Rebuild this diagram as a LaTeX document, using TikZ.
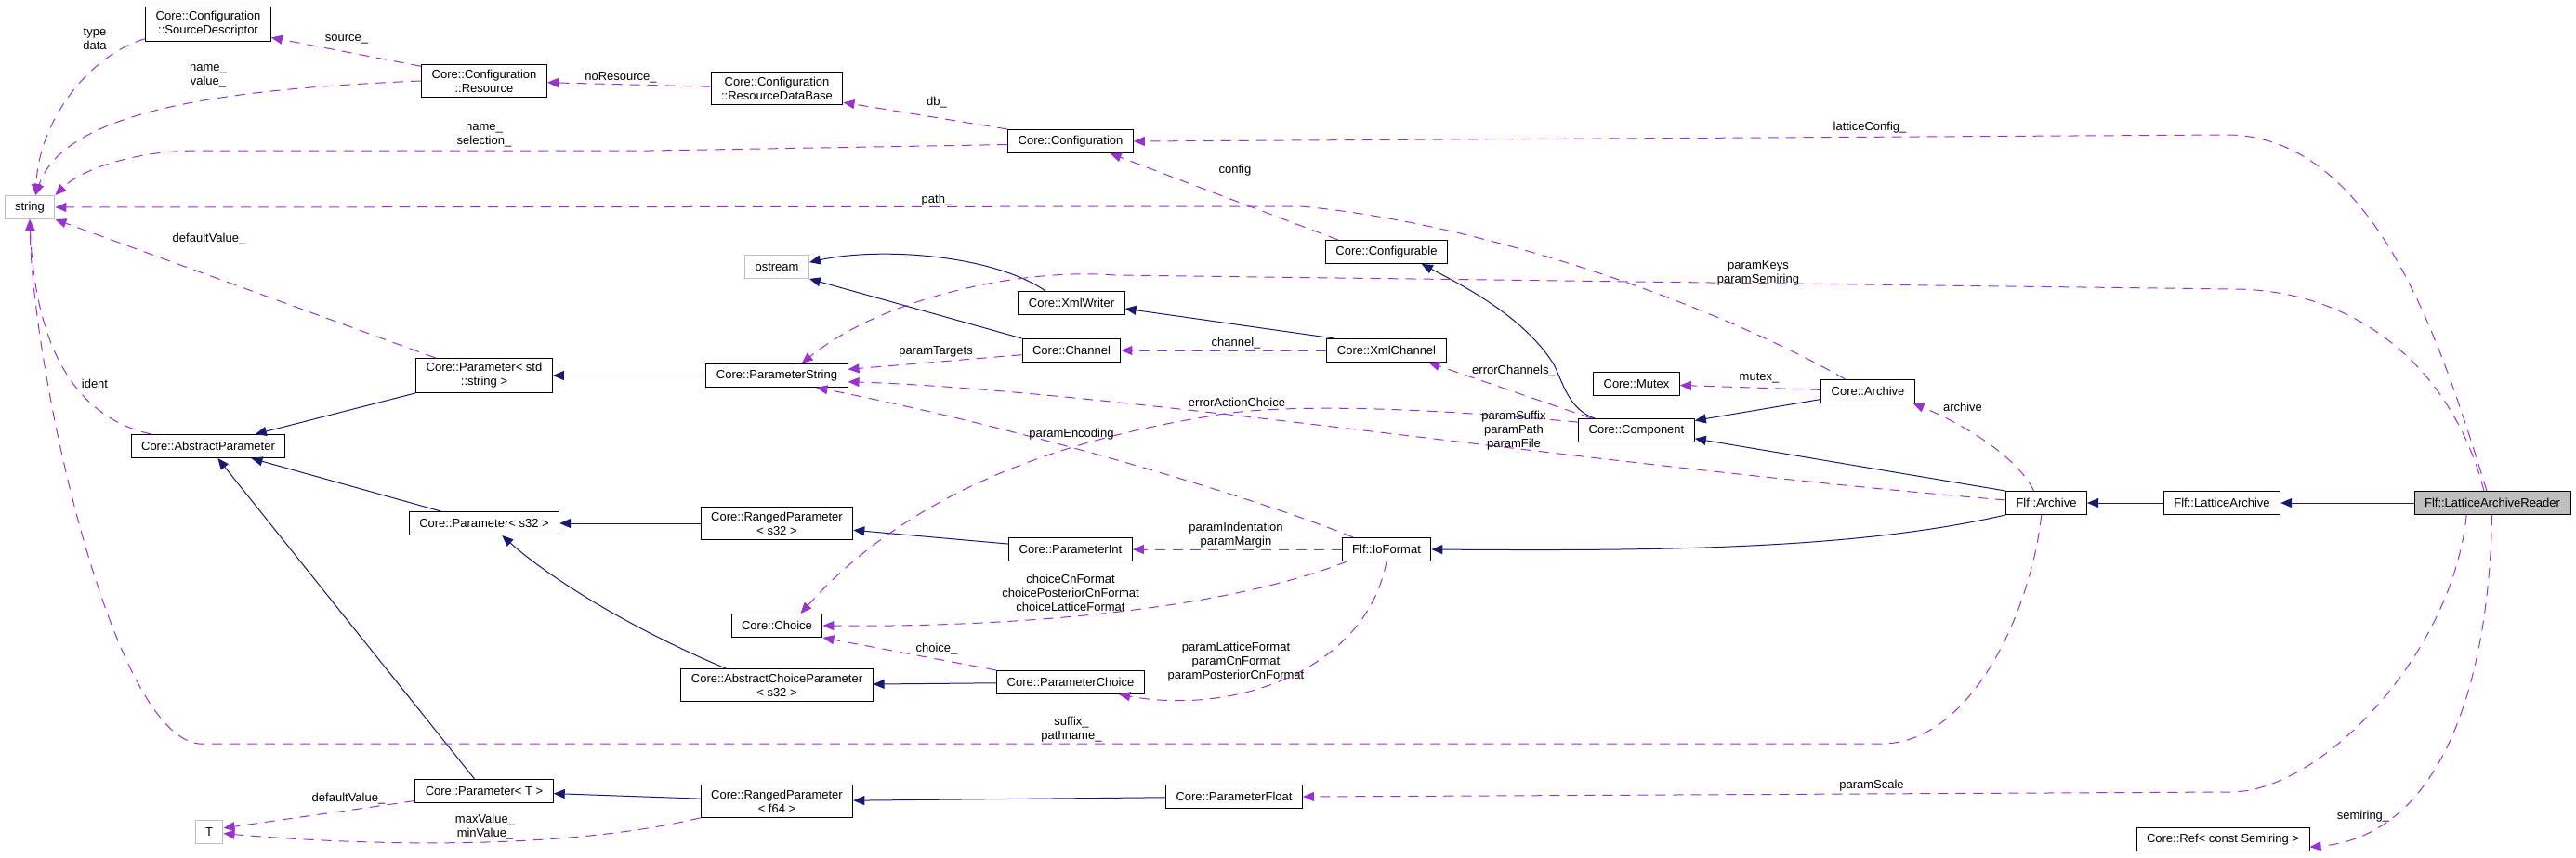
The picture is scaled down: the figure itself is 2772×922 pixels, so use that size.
\documentclass[tikz,border=0pt]{standalone}
\usepackage{fontspec}
\setmainfont{Liberation Sans}
\usetikzlibrary{arrows.meta,positioning}
\definecolor{Navy}{HTML}{191970}
\definecolor{Orchid}{HTML}{9A32CD}
\definecolor{Frame}{HTML}{BFBFBF}

\begin{document}
\begin{tikzpicture}[
  x=1pt,y=-1pt,
  cls/.style={draw=black,fill=white,line width=1pt,inner xsep=11pt,inner ysep=5pt,minimum height=25pt,align=center,font=\fontsize{13}{15}\selectfont},
  extcls/.style={cls,draw=Frame},
  curcls/.style={cls,fill=Frame},
  lbl/.style={inner sep=0pt,align=center,font=\fontsize{13}{15}\selectfont},
  inherit/.style={-{Triangle[length=12pt,width=10pt]},line width=1pt,draw=Navy},
  member/.style={-{Triangle[length=12pt,width=10pt]},line width=1pt,draw=Orchid,dash pattern=on 11pt off 8pt}
]
\path[use as bounding box,fill=white] (0,0) rectangle (2772,922);

% classes
\node[cls] (src) at (224,26) {Core::Configuration\\::SourceDescriptor};
\node[cls] (res) at (521,87) {Core::Configuration\\::Resource};
\node[extcls] (str) at (32,223) {string};
\node[cls] (rdb) at (836,95) {Core::Configuration\\::ResourceDataBase};
\node[cls] (conf) at (1152,152) {Core::Configuration};
\node[extcls] (ostr) at (836,287) {ostream};
\node[cls] (cfgable) at (1492,271) {Core::Configurable};
\node[cls] (pstd) at (521,404) {Core::Parameter< std\\::string >};
\node[cls] (absp) at (224,480) {Core::AbstractParameter};
\node[cls] (ps32) at (521,563) {Core::Parameter< s32 >};
\node[cls] (xmlw) at (1153,326) {Core::XmlWriter};
\node[cls] (chan) at (1153,377) {Core::Channel};
\node[cls] (pstr) at (836,404) {Core::ParameterString};
\node[cls] (rs32) at (836,563) {Core::RangedParameter\\< s32 >};
\node[cls] (pint) at (1152,591) {Core::ParameterInt};
\node[cls] (xmlc) at (1492,377) {Core::XmlChannel};
\node[cls] (mutex) at (1761,413) {Core::Mutex};
\node[cls] (carch) at (2010,421) {Core::Archive};
\node[cls] (comp) at (1761,463) {Core::Component};
\node[cls] (iofmt) at (1492,591) {Flf::IoFormat};
\node[cls] (farch) at (2202,541) {Flf::Archive};
\node[cls] (larch) at (2391,541) {Flf::LatticeArchive};
\node[curcls] (reader) at (2682,541) {Flf::LatticeArchiveReader};
\node[cls] (pT) at (521,851) {Core::Parameter< T >};
\node[extcls] (T) at (225,895) {T};
\node[cls] (choice) at (836,673) {Core::Choice};
\node[cls] (acp) at (836,737) {Core::AbstractChoiceParameter\\< s32 >};
\node[cls] (pchoice) at (1152,734) {Core::ParameterChoice};
\node[cls] (rf64) at (836,862) {Core::RangedParameter\\< f64 >};
\node[cls] (pfloat) at (1328,857) {Core::ParameterFloat};
\node[cls] (ref) at (2392,903) {Core::Ref< const Semiring >};

% inheritance
\draw[inherit] (pstd) -- (absp);
\draw[inherit] (ps32) -- (absp);
\draw[inherit] (pT) -- (absp);
\draw[inherit] (pstr) -- (pstd);
\draw[inherit] (rs32) -- (ps32);
\draw[inherit] (acp.162) .. controls (660,668) and (580,612) .. (ps32.-34);
\draw[inherit] (pint) -- (rs32);
\draw[inherit] (pchoice) -- (acp);
\draw[inherit] (rf64) -- (pT);
\draw[inherit] (pfloat) -- (rf64);
\draw[inherit] (xmlw.155) .. controls (1070,275) and (950,265) .. (ostr.8);
\draw[inherit] (chan.north west) -- (ostr.south east);
\draw[inherit] (xmlc.167) -- (xmlw.-6);
\draw[inherit] (comp.164) .. controls (1688,440) and (1682,412) .. (1672,392) .. controls (1640,340) and (1570,305) .. (cfgable.-19);
\draw[inherit] (carch) -- (comp);
\draw[inherit] (farch.north west) -- (comp.-8);
\draw[inherit] (farch.south west) .. controls (2000,590) and (1800,593) .. (iofmt.east);
\draw[inherit] (larch) -- (farch);
\draw[inherit] (reader) -- (larch);

% members
\draw[member] (src.193) .. controls (95,60) and (42,130) .. (str.64);
\draw[member] (res.167) -- (src.-12);
\draw[member] (res.west) .. controls (260,95) and (70,115) .. (str.64);
\draw[member] (rdb) -- (res);
\draw[member] (conf.north west) -- (rdb.-12);
\draw[member] (conf.183) -- (700,162) -- (214,162) .. controls (150,162) and (90,180) .. (str.north east);
\draw[member] (cfgable.166) -- (conf.-17);
\draw[member] (carch.152) .. controls (1850,330) and (1600,240) .. (1400,222) -- (str.east);
\draw[member] (reader.115) .. controls (2630,380) and (2560,150) .. (2400,145) -- (conf.east);
\draw[member] (reader.125) .. controls (2640,400) and (2540,311) .. (2402,311) -- (1200,296) .. controls (1100,288) and (950,320) .. (pstr.26);
\draw[member] (chan.185) -- (pstr.5);
\draw[member] (xmlc) -- (chan);
\draw[member] (comp.165) -- (xmlc.-16);
\draw[member] (farch.176) .. controls (1700,500) and (1200,420) .. (pstr.-5);
\draw[member] (comp.172) .. controls (1550,440) and (1380,432) .. (1300,448) .. controls (1100,480) and (960,550) .. (choice.27);
\draw[member] (carch) -- (mutex);
\draw[member] (farch.136) .. controls (2170,490) and (2110,455) .. (carch.-15);
\draw[member] (farch.248) .. controls (2185,660) and (2120,800) .. (2025,800) -- (214,800) .. controls (120,790) and (35,400) .. (str.south);
\draw[member] (pstd.160) -- (str.south east);
\draw[member] (absp.168) .. controls (85,450) and (38,380) .. (str.south);
\draw[member] (iofmt) -- (pint);
\draw[member] (iofmt.160) .. controls (1350,535) and (1100,460) .. (pstr.-17);
\draw[member] (iofmt.197) .. controls (1320,655) and (1100,675) .. (choice.east);
\draw[member] (iofmt.south) .. controls (1470,720) and (1330,770) .. (pchoice.-14);
\draw[member] (pchoice.north west) -- (choice.south east);
\draw[member] (pT.188) -- (T.15);
\draw[member] (rf64.south west) .. controls (620,912) and (420,912) .. (T.-6);
\draw[member] (reader.205) .. controls (2640,700) and (2500,852) .. (2400,852) -- (pfloat.east);
\draw[member] (reader.268) .. controls (2678,750) and (2620,900) .. (ref.-5);

% labels
\node[lbl] (l-typedata) at (102,42) {type\\data};
\node[lbl] (l-source) at (373,42) {source\_};
\node[lbl] (l-namevalue) at (224,82) {name\_\\value\_};
\node[lbl] (l-noresource) at (668,83) {noResource\_};
\node[lbl] (l-namesel) at (521,146) {name\_\\selection\_};
\node[lbl] (l-defval) at (225,257) {defaultValue\_};
\node[lbl] (l-db) at (1008,110) {db\_};
\node[lbl] (l-config) at (1329,183) {config};
\node[lbl] (l-path) at (1008,215) {path\_};
\node[lbl] (l-latcfg) at (2012,137) {latticeConfig\_};
\node[lbl] (l-keys) at (1892,294) {paramKeys\\paramSemiring};
\node[lbl] (l-ident) at (102,413) {ident};
\node[lbl] (l-targets) at (1007,378) {paramTargets};
\node[lbl] (l-channel) at (1330,369) {channel\_};
\node[lbl] (l-erract) at (1331,433) {errorActionChoice};
\node[lbl] (l-enc) at (1153,467) {paramEncoding};
\node[lbl] (l-indent) at (1330,576) {paramIndentation\\paramMargin};
\node[lbl] (l-errch) at (1629,399) {errorChannels\_};
\node[lbl] (l-mutex) at (1893,407) {mutex\_};
\node[lbl] (l-suffix) at (1629,463) {paramSuffix\\paramPath\\paramFile};
\node[lbl] (l-archive) at (2112,438) {archive};
\node[lbl] (l-defvalT) at (375,859) {defaultValue\_};
\node[lbl] (l-minmax) at (522,890) {maxValue\_\\minValue\_};
\node[lbl] (l-choices) at (1152,638) {choiceCnFormat\\choicePosteriorCnFormat\\choiceLatticeFormat};
\node[lbl] (l-choice) at (1008,698) {choice\_};
\node[lbl] (l-params) at (1330,712) {paramLatticeFormat\\paramCnFormat\\paramPosteriorCnFormat};
\node[lbl] (l-pathname) at (1153,785) {suffix\_\\pathname\_};
\node[lbl] (l-scale) at (2014,845) {paramScale};
\node[lbl] (l-semiring) at (2543,878) {semiring\_};
\end{tikzpicture}
\end{document}
